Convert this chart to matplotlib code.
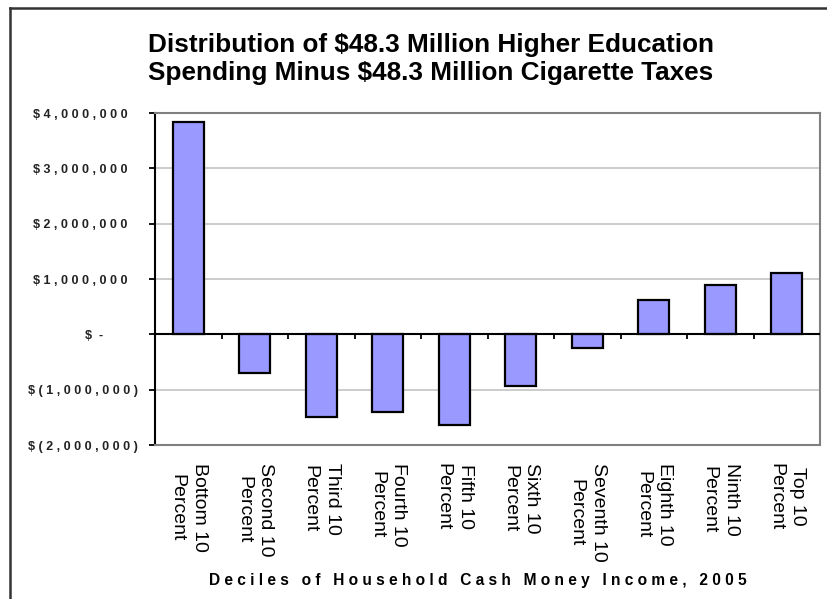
import matplotlib
matplotlib.use("Agg")
import matplotlib.pyplot as plt
import numpy as np
from matplotlib.lines import Line2D

# Net distribution by income decile (dollars)
categories = ["Bottom 10\nPercent", "Second 10\nPercent", "Third 10\nPercent",
              "Fourth 10\nPercent", "Fifth 10\nPercent", "Sixth 10\nPercent",
              "Seventh 10\nPercent", "Eighth 10\nPercent", "Ninth 10\nPercent",
              "Top 10\nPercent"]
net_values = [3840000, -690000, -1500000, -1410000, -1630000, -930000,
              -240000, 620000, 890000, 1110000]
y_ticks = [4000000, 3000000, 2000000, 1000000, 0, -1000000, -2000000]
y_tick_labels = ["$ 4,000,000", "$ 3,000,000", "$ 2,000,000", "$ 1,000,000",
                 "$ -", "$ (1,000,000)", "$ (2,000,000)"]

title_lines = ["Distribution of $48.3 Million Higher Education",
               "Spending Minus $48.3 Million Cigarette Taxes"]
x_title = "Deciles of Household Cash Money Income, 2005"


def spaced(s):
    """Widen text by putting a space between every character."""
    return " ".join(list(s))


def accounting(label):
    """Space out the digits and pad so values line up like an accounting column."""
    if label == "$ -":
        return "$  -" + " " * 10
    if "(" in label:
        return spaced(label.replace("$ ", "$"))
    return spaced(label.replace("$ ", "$")) + "   "


plt.rcParams["font.family"] = ["Liberation Sans", "DejaVu Sans"]

W, H = 827, 599
fig = plt.figure(figsize=(W / 100, H / 100), dpi=100)
fig.patch.set_facecolor("white")

# plot area in pixels: left 155, right 820, top 113, bottom 445
ax = fig.add_axes([155 / W, 1 - 445 / H, (820 - 155) / W, (445 - 113) / H])

n = len(net_values)
x = np.arange(n) + 0.5
ax.bar(x, net_values, width=0.46, color="#9999ff", edgecolor="black",
       linewidth=1.6, zorder=3)

ax.set_xlim(0, n)
ax.set_ylim(y_ticks[-1], y_ticks[0])

# gridlines
for v in y_ticks:
    if v not in (0, y_ticks[0], y_ticks[-1]):
        ax.axhline(v, color="#c8c8c8", linewidth=1.3, zorder=1)

# category axis along zero with boundary tick marks
ax.axhline(0, color="black", linewidth=1.5, zorder=4)
tick_len = 90000
ax.vlines(np.arange(1, n), -tick_len, 0, color="black", linewidth=1.3, zorder=4)

for side in ("top", "right", "bottom"):
    ax.spines[side].set_color("#808080")
    ax.spines[side].set_linewidth(1.5)
ax.spines["left"].set_color("black")
ax.spines["left"].set_linewidth(1.5)

ax.set_yticks(y_ticks)
ax.set_yticklabels([accounting(t) for t in y_tick_labels])
ax.tick_params(axis="y", direction="out", length=4, width=1.3, pad=8,
               labelsize=9)
for lbl in ax.get_yticklabels():
    lbl.set_fontweight("bold")
    lbl.set_color("#222222")

ax.set_xticks(x)
ax.set_xticklabels(categories, rotation=270, fontsize=14,
                   linespacing=1.4, multialignment="center", va="top",
                   ha="center")
ax.tick_params(axis="x", length=0, pad=13)

# titles
for i, line in enumerate(title_lines):
    fig.text(431 / W, 1 - (45 + 28 * i) / H, line, ha="center", va="center",
             fontsize=18.8, fontweight="bold")

fig.text(478 / W, 1 - 581 / H, spaced(x_title), ha="center", va="center",
         fontsize=11.2, fontweight="bold")

# outer chart frame (left and top edges)
fig.add_artist(Line2D([10 / W, 10 / W], [0, 1 - 8 / H], color="#333333",
                      linewidth=1.8, transform=fig.transFigure))
fig.add_artist(Line2D([10 / W, 1], [1 - 8 / H, 1 - 8 / H], color="#333333",
                      linewidth=1.8, transform=fig.transFigure))

fig.savefig("out.png", dpi=100, facecolor="white")
